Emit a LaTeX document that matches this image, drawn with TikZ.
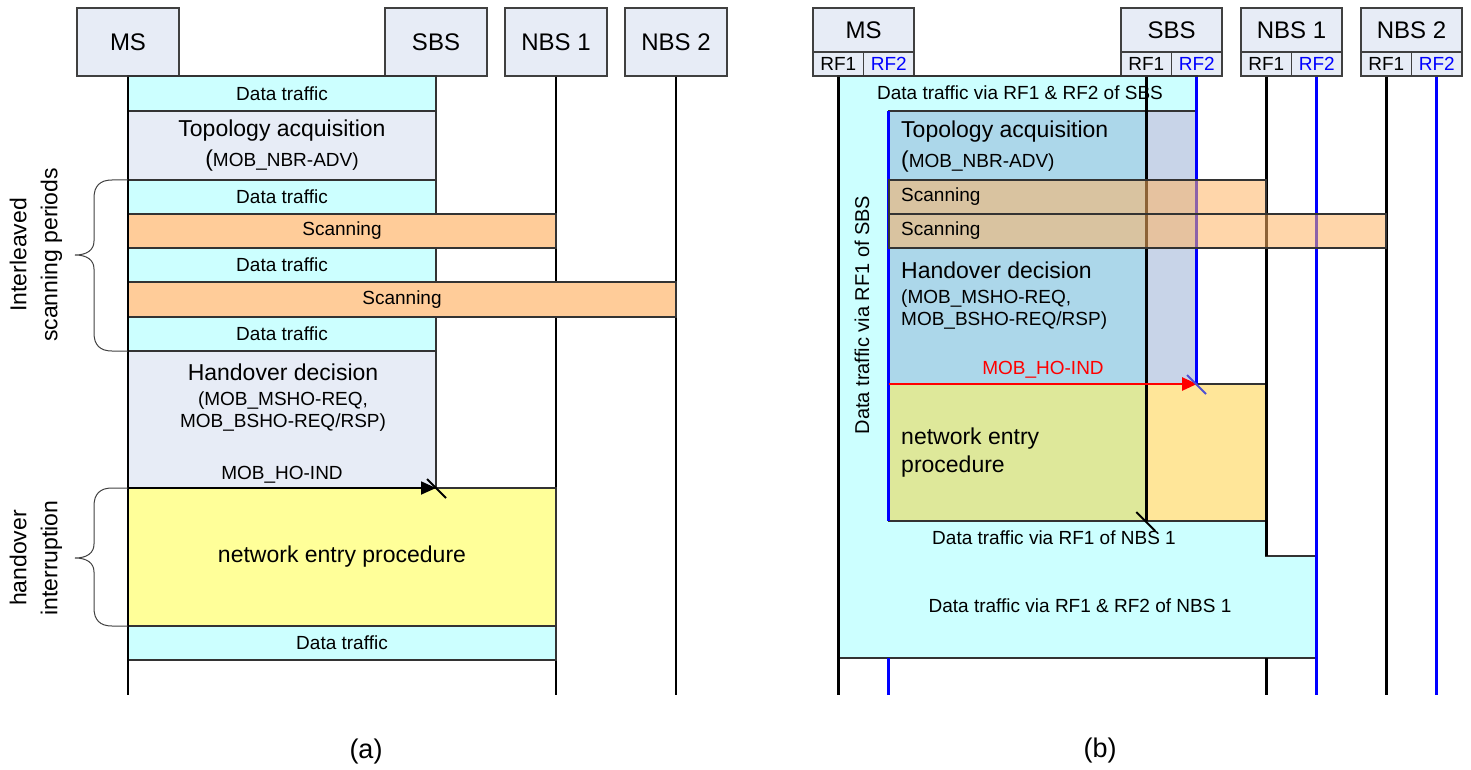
\documentclass[tikz,border=0pt]{standalone}
\usepackage{fontspec}
\setmainfont{Liberation Sans}
\usepackage{tikz}
\usetikzlibrary{positioning,calc,arrows.meta}

\definecolor{hdrfill}{RGB}{231,236,246}
\definecolor{trafcyan}{RGB}{204,255,255}
\definecolor{scanorange}{RGB}{255,204,153}
\definecolor{scanglass}{RGB}{255,180,100}
\definecolor{entryyellow}{RGB}{255,255,153}
\definecolor{topoblue}{RGB}{172,215,234}
\definecolor{stripblue}{RGB}{200,212,232}
\definecolor{entrygreen}{RGB}{222,232,154}
\definecolor{entrygold}{RGB}{255,230,153}
\definecolor{rfblue}{RGB}{0,0,255}
\definecolor{slashblue}{RGB}{80,80,210}

\begin{document}
\begin{tikzpicture}[
    x=1pt,y=-1pt,
    >={Triangle[length=15pt,width=13pt]},
    node distance=120pt,on grid,
    hdr/.style={draw=black!75,fill=hdrfill,line width=1.2pt,minimum width=102pt,minimum height=68pt,inner sep=0pt,font=\fontsize{24}{28}\selectfont},
    hdrtop/.style={hdr,minimum width=101pt,minimum height=44pt},
    rfcell/.style={hdr,minimum width=50.5pt,minimum height=24pt,font=\fontsize{19}{22}\selectfont},
    life/.style={line width=2.8pt},
    rfline/.style={life,draw=rfblue},
    row/.style={draw=black!80,line width=1.2pt,inner sep=0pt,outer sep=0pt,font=\fontsize{19}{22}\selectfont},
    traffic/.style={row,fill=trafcyan},
    proc/.style={row,fill=hdrfill},
    scanbar/.style={row,fill=scanorange},
    entry/.style={row,fill=entryyellow},
    txt/.style={inner sep=0pt,font=\fontsize{19}{22}\selectfont},
    bigtxt/.style={inner sep=0pt,font=\fontsize{23}{28}\selectfont},
    msg/.style={->,line width=1.8pt},
    brace/.style={draw=black!75,line width=1pt},
    sidetxt/.style={rotate=90,align=center,font=\fontsize{23}{31}\selectfont}
  ]
  \useasboundingbox (0,0) rectangle (1471,770);
  \coordinate (endy) at (0,695);
  \coordinate (cybot) at (0,658);
  \coordinate (stepy) at (0,556);
  \coordinate (hoAs) at (128,488);
  \coordinate (hoAe) at (436,488);

  % (a) single radio
  \node[hdr] (msA) at (128,42) {MS};
  \node[hdr,right=308pt of msA] (sbsA) {SBS};
  \node[hdr,right=of sbsA] (nbsoneA) {NBS 1};
  \node[hdr,right=of nbsoneA] (nbstwoA) {NBS 2};
  \foreach \n in {msA,nbsoneA,nbstwoA}
    \draw[life] (\n.south) -- (\n.south |- endy);
  \draw[life] (sbsA.south) -- (hoAe);

  \node[traffic,minimum width=308pt,minimum height=35pt] (datA1) at (282,93.5) {Data traffic};
  \node[proc,minimum width=308pt,minimum height=69pt,align=center,font=\fontsize{23}{30}\selectfont] (topoA) at (282,145.5)
    {Topology acquisition\\(\fontsize{19}{22}\selectfont MOB\_NBR-ADV)};
  \node[traffic,minimum width=308pt,minimum height=34pt] (datA2) at (282,197) {Data traffic};
  \node[scanbar,minimum width=428pt,minimum height=34pt] (scanA1) at (342,231) {Scanning};
  \node[traffic,minimum width=308pt,minimum height=34pt] (datA3) at (282,265) {Data traffic};
  \node[scanbar,minimum width=548pt,minimum height=35pt] (scanA2) at (402,299.5) {Scanning};
  \node[traffic,minimum width=308pt,minimum height=34pt] (datA4) at (282,334) {Data traffic};
  \node[proc,minimum width=308pt,minimum height=137pt] (hodecA) at (282,419.5) {};
  \node[txt,align=center] (hodecAtxt) at (283,398)
    {{\fontsize{23}{28}\selectfont Handover decision}\\[3pt](MOB\_MSHO-REQ,\\MOB\_BSHO-REQ/RSP)};
  \node[entry,minimum width=428pt,minimum height=138pt,font=\fontsize{23}{28}\selectfont] (entryA) at (342,557) {network entry procedure};
  \node[traffic,minimum width=428pt,minimum height=34pt] (datA5) at (342,643) {Data traffic};
  \draw[life] (msA.south) -- (msA.south |- endy);

  \draw[msg] (hoAs) -- node[txt,above=4pt] {MOB\_HO-IND} (hoAe);
  \draw[line width=1.8pt] ($(hoAe)+(-9,-9)$) -- ($(hoAe)+(10,10)$);

  \draw[brace] (128,180) -- (112,180) .. controls (100,180) and (94,186) .. (94,198) -- (94,241)
    .. controls (94,250) and (87,255) .. (75,255) .. controls (87,255) and (94,260) .. (94,269)
    -- (94,333) .. controls (94,345) and (100,351) .. (112,351) -- (128,351);
  \draw[brace] (128,488) -- (112,488) .. controls (100,488) and (94,494) .. (94,506) -- (94,544)
    .. controls (94,553) and (87,558) .. (75,558) .. controls (87,558) and (94,563) .. (94,572)
    -- (94,608) .. controls (94,620) and (100,626) .. (112,626) -- (128,626);
  \node[sidetxt] (ilvA) at (36,255) {Interleaved\\scanning periods};
  \node[sidetxt] (hoiA) at (36,558) {handover\\interruption};
  \node[font=\fontsize{27}{30}\selectfont] (capA) at (366,752) {(a)};

  % (b) two radios
  \node[hdrtop] (msB) at (863.5,30) {MS};
  \node[hdrtop,right=308pt of msB] (sbsB) {SBS};
  \node[hdrtop,right=of sbsB] (nbsoneB) {NBS 1};
  \node[hdrtop,right=of nbsoneB] (nbstwoB) {NBS 2};
  \foreach \n in {msB,sbsB,nbsoneB,nbstwoB} {
    \node[rfcell,below=34pt of \n,xshift=-25.25pt] (\n1) {RF1};
    \node[rfcell,below=34pt of \n,xshift=25.25pt,text=rfblue] (\n2) {RF2};
  }

  \draw[row,fill=trafcyan] (838,76) -- (1197,76) -- (1197,111) -- (889,111) -- (889,521) -- (1266,521)
    -- (1266,556) -- (1317,556) -- (1317,658) -- (838,658) -- cycle;
  \node[row,fill=topoblue,minimum width=257pt,minimum height=273pt] (topoB) at (1017.5,247.5) {};
  \node[row,fill=stripblue,minimum width=51pt,minimum height=273pt] (stripB) at (1171.5,247.5) {};
  \node[row,fill=entrygreen,minimum width=257pt,minimum height=137pt] (entryBa) at (1017.5,452.5) {};
  \node[row,fill=entrygold,minimum width=120pt,minimum height=137pt] (entryBb) at (1206,452.5) {};

  \draw[life] (msB1.south) -- (msB1.south |- endy);
  \draw[rfline] (msB2.south |- topoB.north) -- (msB2.south |- entryBa.south);
  \draw[rfline] (msB2.south |- cybot) -- (msB2.south |- endy);
  \draw[life] (sbsB1.south) -- (sbsB1.south |- entryBa.south);
  \draw[rfline] (sbsB2.south) -- (sbsB2.south |- stripB.south);
  \draw[life] (nbsoneB1.south) -- (nbsoneB1.south |- stepy);
  \draw[life] (nbsoneB1.south |- cybot) -- (nbsoneB1.south |- endy);
  \draw[rfline] (nbsoneB2.south) -- (nbsoneB2.south |- endy);
  \draw[life] (nbstwoB1.south) -- (nbstwoB1.south |- endy);
  \draw[rfline] (nbstwoB2.south) -- (nbstwoB2.south |- endy);

  \node[row,fill=scanglass,fill opacity=0.55,minimum width=377pt,minimum height=34pt] (scanB1) at (1077.5,197) {};
  \node[row,fill=scanglass,fill opacity=0.55,minimum width=497pt,minimum height=34pt] (scanB2) at (1137.5,231) {};

  \coordinate (hoBs) at (889,384);
  \coordinate (hoBe) at (1197,384);
  \draw[msg,red,line width=2.6pt] (hoBs) -- node[txt,above=4pt,text=red] {MOB\_HO-IND} (hoBe);
  \draw[line width=1.8pt,slashblue] ($(hoBe)+(-10,-9)$) -- ($(hoBe)+(9,10)$);
  \coordinate (sbsBend) at (sbsB1.south |- entryBa.south);
  \draw[line width=1.8pt] ($(sbsBend)+(-10,-9)$) -- ($(sbsBend)+(9,10)$);

  \node[txt] (datB1) at (1020,93) {Data traffic via RF1 \& RF2 of SBS};
  \node[txt,rotate=90,font=\fontsize{20}{24}\selectfont] (datB2) at (862,315) {Data traffic via RF1 of SBS};
  \node[txt] (datB3) at (1054,538) {Data traffic via RF1 of NBS 1};
  \node[txt] (datB4) at (1080,606) {Data traffic via RF1 \& RF2 of NBS 1};
  \node[bigtxt,anchor=west,align=left,font=\fontsize{23}{30}\selectfont] (topoBtxt) at (901,147)
    {Topology acquisition\\(\fontsize{19}{22}\selectfont MOB\_NBR-ADV)};
  \node[txt,anchor=west] (scanB1txt) at (901,197) {Scanning};
  \node[txt,anchor=west] (scanB2txt) at (901,231) {Scanning};
  \node[txt,anchor=west,align=left] (hodecBtxt) at (901,296)
    {{\fontsize{23}{28}\selectfont Handover decision}\\[3pt](MOB\_MSHO-REQ,\\MOB\_BSHO-REQ/RSP)};
  \node[bigtxt,anchor=west,align=left] (entryBtxt) at (901,453) {network entry\\procedure};
  \node[font=\fontsize{27}{30}\selectfont] (capB) at (1100,751) {(b)};
\end{tikzpicture}
\end{document}
